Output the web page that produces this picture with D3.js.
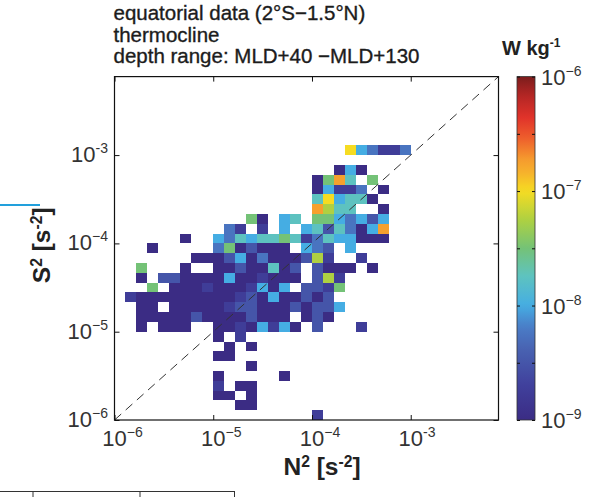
<!DOCTYPE html>
<html>
<head>
<meta charset="utf-8">
<script src="https://cdn.jsdelivr.net/npm/d3@7"></script>
<style>
  html, body { margin: 0; padding: 0; background: #fff; }
  svg { display: block; font-family: "Liberation Sans", Arial, sans-serif; }
</style>
</head>
<body>
<svg id="chart" width="591" height="497"></svg>
<script>
// ---- data -------------------------------------------------------------
const titleLines = ["equatorial data (2°S−1.5°N)", "thermocline", "depth range: MLD+40 −MLD+130"];
const xTitle = { base: "N", sup1: "2", mid: " [s", sup2: "-2", end: "]" };
const yTitle = { base: "S", sup1: "2", mid: " [s", sup2: "-2", end: "]" };
const cbarTitle = { base: "W kg", sup: "-1" };

// decade ticks on both log axes (exponent and the label's superscript text)
const axisExponents = [-6, -5, -4, -3];
const axisExpText = ["−6", "−5", "−4", "-3"];
// dissipation colour bar, W kg^-1
const cbarExponents = [-9, -8, -7, -6];
const cbarExpText = ["−9", "−8", "−7", "−6"];
const cbarMinor = [-8.5, -7.5, -6.5];

// log10 bins: 9 per decade starting at 1e-6, 35 bins span each axis
const binStart = -6;
const binsPerDecade = 9;
const axisBins = 35;

// mean log10(epsilon) for each code character
const epsLog = [-9, -8.75, -8.5, -8.25, -8, -7.75, -7.5, -7.25, -7, -6.75];

// binned mean epsilon; one string per S^2 bin (top row first), one char per N^2 bin; '.' = no data
const epsGrid = [
  ".....................843113",
  "...........................",
  "....................040....",
  "..................0695.6...",
  "..................04113.0..",
  "..................584550...",
  "..................9755..0..",
  "............60.45.6643424..",
  "..........31.1.4.45253049..",
  "......0..4354556513544000..",
  "...0.....3602000.432.4.....",
  ".......0002403000271..1....",
  "..6...0..00200502.2000.0...",
  "..0.2200004001000.271......",
  "...6.00010001404.2216......",
  ".1000000000120400202.......",
  "..00.0000012200020224......",
  "..00000200002000.020.......",
  "..0.000..00104140.2...1....",
  ".........0.1...............",
  "..........0.0..............",
  ".........00................",
  "............0..............",
  ".........0.....0...........",
  ".........1.00..............",
  ".........00.0..............",
  "...........00..............",
  "..................1........"
];

// colour map stops (fraction of the -9..-6 range)
const cmapPos = [0, 0.10, 0.20, 0.27, 0.333, 0.42, 0.50, 0.58, 0.667, 0.72, 0.76, 0.82, 0.88, 0.95, 1];
const cmapCol = ["#3b2c84", "#40409c", "#4860b0", "#4a7cc6", "#45ade3", "#5ec3bf", "#74c277",
                 "#acd043", "#f6dc22", "#f6b22c", "#f59a2e", "#ee5f2c", "#e1332a", "#b02524", "#7a1c1c"];

// ---- layout -------------------------------------------------------------
const svg = d3.select("#chart");
const plot = { left: 114.5, right: 498.5, top: 76.6, bottom: 420 };
const axisMax = Math.pow(10, binStart + axisBins / binsPerDecade);

const x = d3.scaleLog().domain([1e-6, axisMax]).range([plot.left, plot.right]);
const y = d3.scaleLog().domain([1e-6, axisMax]).range([plot.bottom, plot.top]);

const cmap = d3.scaleLinear().domain(cmapPos).range(cmapCol).interpolate(d3.interpolateRgb).clamp(true);
const epsColor = v => cmap((v + 9) / 3);

svg.append("rect").attr("width", 591).attr("height", 497).attr("fill", "#fff");

// ---- cells --------------------------------------------------------------
const cells = [];
epsGrid.forEach((row, r) => {
  const j = epsGrid.length - 1 - r;
  row.split("").forEach((ch, i) => {
    if (ch === ".") return;
    cells.push({ i, j, v: epsLog[+ch] });
  });
});
const edge = k => Math.pow(10, binStart + k / binsPerDecade);

svg.append("g").selectAll("rect").data(cells).join("rect")
  .attr("x", d => x(edge(d.i)))
  .attr("width", d => x(edge(d.i + 1)) - x(edge(d.i)))
  .attr("y", d => y(edge(d.j + 1)))
  .attr("height", d => y(edge(d.j)) - y(edge(d.j + 1)))
  .attr("fill", d => epsColor(d.v))
  .attr("shape-rendering", "crispEdges");

// 1:1 line
svg.append("line")
  .attr("x1", x(1e-6)).attr("y1", y(1e-6))
  .attr("x2", x(axisMax)).attr("y2", y(axisMax))
  .attr("stroke", "#333").attr("stroke-width", 1).attr("stroke-dasharray", "9,6");

// ---- axes box + inward ticks ---------------------------------------------
const tickVals = axisExponents.map(e => Math.pow(10, e));
const noLabel = () => "";
function styleAxis(g) {
  g.select(".domain").remove();
  g.selectAll(".tick line").attr("stroke", "#111").attr("stroke-width", 1);
}
svg.append("g").attr("transform", `translate(0,${plot.bottom})`)
  .call(d3.axisBottom(x).tickValues(tickVals).tickSize(-5).tickFormat(noLabel)).call(styleAxis);
svg.append("g").attr("transform", `translate(0,${plot.top})`)
  .call(d3.axisTop(x).tickValues(tickVals).tickSize(-5).tickFormat(noLabel)).call(styleAxis);
svg.append("g").attr("transform", `translate(${plot.left},0)`)
  .call(d3.axisLeft(y).tickValues(tickVals).tickSize(-5).tickFormat(noLabel)).call(styleAxis);
svg.append("g").attr("transform", `translate(${plot.right},0)`)
  .call(d3.axisRight(y).tickValues(tickVals).tickSize(-5).tickFormat(noLabel)).call(styleAxis);

svg.append("rect")
  .attr("x", plot.left).attr("y", plot.top)
  .attr("width", plot.right - plot.left).attr("height", plot.bottom - plot.top)
  .attr("fill", "none").attr("stroke", "#111").attr("stroke-width", 1.2);

// ---- tick labels: "10" with raised exponent ---------------------------------
const tickFont = 22, supFont = 14;
function powerLabel(g, cx, baseline, expText, align) {
  const t = g.append("text").attr("y", baseline).attr("fill", "#333")
    .style("font-size", tickFont + "px");
  const base = t.append("tspan").text("10");
  const w = base.node().getComputedTextLength();
  const s = t.append("tspan").attr("dy", -9).style("font-size", supFont + "px").text(expText);
  const ws = s.node().getComputedTextLength();
  let left;
  if (align === "center") left = cx - w / 2;
  else if (align === "end") left = cx - w - ws;
  else left = cx;
  t.attr("x", left);
}
const labels = svg.append("g");
axisExponents.forEach((e, k) => {
  powerLabel(labels, x(Math.pow(10, e)), 446, axisExpText[k], "center");
  powerLabel(labels, 108, y(Math.pow(10, e)) + 7, axisExpText[k], "end");
});

// ---- axis titles ------------------------------------------------------------
function titleText(t, spec, size) {
  const ss = (size * 0.64) + "px";
  t.append("tspan").text(spec.base);
  t.append("tspan").attr("dy", -8).style("font-size", ss).text(spec.sup1);
  t.append("tspan").attr("dy", 8).text(spec.mid);
  t.append("tspan").attr("dy", -8).style("font-size", ss).text(spec.sup2);
  t.append("tspan").attr("dy", 8).text(spec.end);
}
const axTitleSize = 24.5;
const xt = svg.append("text")
  .attr("x", 322).attr("y", 475)
  .attr("text-anchor", "middle").attr("fill", "#222")
  .style("font-size", axTitleSize + "px").style("font-weight", "bold");
titleText(xt, xTitle, axTitleSize);
const yt = svg.append("text")
  .attr("transform", `translate(50,${(plot.top + plot.bottom) / 2 - 3}) rotate(-90)`)
  .attr("text-anchor", "middle").attr("fill", "#222")
  .style("font-size", axTitleSize + "px").style("font-weight", "bold");
titleText(yt, yTitle, axTitleSize);

// ---- header lines -------------------------------------------------------
svg.append("g").selectAll("text").data(titleLines).join("text")
  .attr("x", 113.5).attr("y", (d, k) => 20 + k * 21.5)
  .attr("fill", "#1c1c1c")
  .style("font-size", "20.5px")
  .style("stroke", "#1c1c1c").style("stroke-width", 0.35)
  .text(d => d);

// ---- colour bar ---------------------------------------------------------
const cb = { x: 517, w: 18 };
const cy = d3.scaleLog().domain([1e-9, 1e-6]).range([plot.bottom, plot.top]);
const grad = svg.append("defs").append("linearGradient")
  .attr("id", "epsGrad").attr("x1", 0).attr("y1", 1).attr("x2", 0).attr("y2", 0);
d3.range(0, 1.0001, 0.02).forEach(f => {
  grad.append("stop").attr("offset", f).attr("stop-color", cmap(f));
});
svg.append("rect")
  .attr("x", cb.x).attr("y", plot.top).attr("width", cb.w).attr("height", plot.bottom - plot.top)
  .attr("fill", "url(#epsGrad)").attr("stroke", "#333").attr("stroke-width", 0.8);

const cbTicks = cbarExponents.concat(cbarMinor).map(e => Math.pow(10, e));
svg.append("g").attr("transform", `translate(${cb.x},0)`)
  .call(d3.axisLeft(cy).tickValues(cbTicks).tickSize(-3).tickFormat(noLabel)).call(styleAxis);
svg.append("g").attr("transform", `translate(${cb.x + cb.w},0)`)
  .call(d3.axisRight(cy).tickValues(cbTicks).tickSize(-3).tickFormat(noLabel)).call(styleAxis);

cbarExponents.forEach((e, k) => {
  powerLabel(labels, 541, cy(Math.pow(10, e)) + 8, cbarExpText[k], "start");
});

const ct = svg.append("text").attr("x", 502).attr("y", 55).attr("fill", "#222")
  .style("font-size", "20px").style("font-weight", "bold");
ct.append("tspan").text(cbarTitle.base);
ct.append("tspan").attr("dy", -8).style("font-size", "12px").text(cbarTitle.sup);

// ---- page furniture around the figure --------------------------------------
svg.append("line").attr("x1", 0).attr("x2", 40).attr("y1", 205).attr("y2", 205)
  .attr("stroke", "#22a0dc").attr("stroke-width", 2);
const rule = svg.append("g").attr("stroke", "#333").attr("stroke-width", 1);
rule.append("line").attr("x1", 0).attr("x2", 235).attr("y1", 491.5).attr("y2", 491.5);
[33, 140, 234.5].forEach(v => rule.append("line").attr("x1", v).attr("x2", v).attr("y1", 491.5).attr("y2", 497));
</script>
</body>
</html>
